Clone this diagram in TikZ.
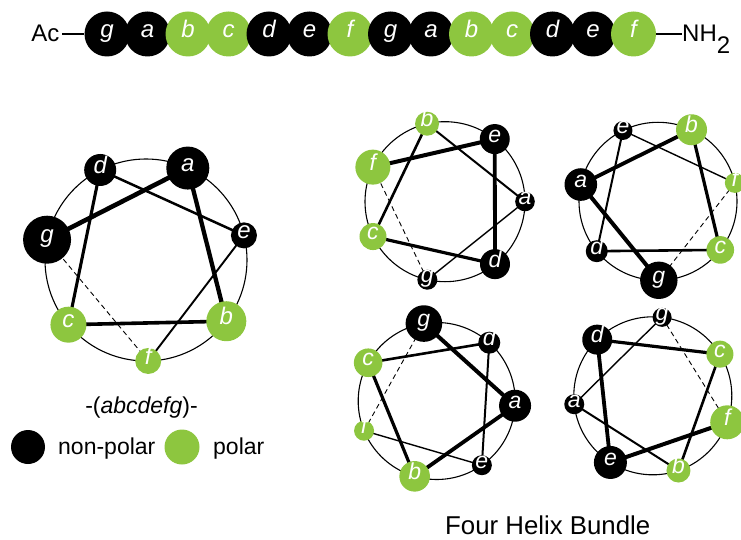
\documentclass[tikz,border=0pt]{standalone}
\usepackage{fontspec}
\setmainfont{Liberation Sans}
\usetikzlibrary{backgrounds,calc}
\definecolor{polargreen}{RGB}{141,198,63}
\colorlet{col-a}{black}
\colorlet{col-b}{polargreen}
\colorlet{col-c}{polargreen}
\colorlet{col-d}{black}
\colorlet{col-e}{black}
\colorlet{col-f}{polargreen}
\colorlet{col-g}{black}
\tikzset{
  res/.style={circle, inner sep=0pt, fill=col-#1, text=white, text height=0.62em, text depth=0pt},
  ring/.style={line width=1.1pt},
  link/.style={line width=#1, line cap=round},
  closer/.style={line width=0.9pt, dash pattern=on 5pt off 3.5pt},
  lbl/.style={font=\fontsize{23}{23}\selectfont, inner sep=0pt},
  legdot/.style={circle, inner sep=0pt, fill=#1},
}
% #1 prefix, #2 cx, #3 cy, #4 R, #5 start angle, #6 letter/radius list, #7 widths, #8 font size
\newcommand\hwheel[8]{%
  \foreach \l/\s [count=\i] in {#6} {
    \pgfmathsetmacro\px{#2+#4*cos(#5-(\i-1)*720/7)}
    \pgfmathsetmacro\py{#3-#4*sin(#5-(\i-1)*720/7)}
    \node[res=\l, minimum size={2*\s*1pt}, font=\fontsize{#8}{#8}\selectfont\itshape] (#1\l) at (\px,\py) {\l};
    \expandafter\xdef\csname hw#1\i\endcsname{\l}
  }
  \begin{pgfonlayer}{background}
    \draw[ring] (#2,#3) circle[radius=#4pt];
    \foreach \w [count=\i] in {#7} {
      \pgfmathtruncatemacro\j{\i+1}
      \edef\na{\csname hw#1\i\endcsname}
      \edef\nb{\csname hw#1\j\endcsname}
      \draw[link=\w pt] (#1\na.center) -- (#1\nb.center);
    }
    \edef\na{\csname hw#17\endcsname}
    \edef\nb{\csname hw#11\endcsname}
    \draw[closer] (#1\na.center) -- (#1\nb.center);
  \end{pgfonlayer}
}
\begin{document}
\begin{tikzpicture}[x=1pt, y=-1pt]
\useasboundingbox (0,0) rectangle (741,540);

% ---- top sequence ----
\foreach \l [count=\i] in {g,a,b,c,d,e,f,g,a,b,c,d,e,f} {
  \node[res=\l, minimum size=45pt, text height=0.72em, font=\fontsize{24}{24}\selectfont\itshape] (s\i) at ({107+40.5*(\i-1)},34) {\l};
}
\node[lbl, font=\fontsize{24}{24}\selectfont, anchor=base east] (ac) at (59.5,41.7) {Ac};
\node[lbl, font=\fontsize{24}{24}\selectfont, anchor=base west] (nh) at (682,41.7) {NH\raisebox{-12pt}{2}};
\begin{pgfonlayer}{background}
  \draw[line width=2pt] (ac.east |- s1.west) ++(2.5,0) -- (s1.west);
  \draw[line width=2pt] (s14.east) -- (nh.west |- s14.east);
\end{pgfonlayer}

% ---- single heptad wheel ----
\hwheel{L}{146}{260}{101}{168.4}{g/24,a/21.5,b/20,c/18,d/16,e/13,f/13}{4.6,4.3,3.6,3.1,2.5,1.9}{24}

% ---- four helix bundle ----
\hwheel{P}{445}{201.7}{80}{154.4}{f/17.5,e/15,d/15,c/13.5,b/12,a/9.8,g/10}{4,3.8,3.2,2.6,2,1.4}{23}
\hwheel{Q}{658}{201.3}{79}{-89.4}{g/18.7,a/16.3,b/15.5,c/13.8,d/11,e/9.5,f/10}{4,3.8,3.2,2.6,2,1.4}{23}
\hwheel{R}{436.7}{401}{78.5}{99.4}{g/18.3,a/16,b/15.3,c/14.3,d/11,e/10,f/10}{4,3.8,3.2,2.6,2,1.4}{23}
\hwheel{S}{652.8}{395.8}{79}{-19.6}{f/17,e/16.5,d/15,c/13.5,b/12,a/10,g/9.5}{4,3.8,3.2,2.6,2,1.4}{23}

% ---- labels and legend ----
\node[lbl, anchor=base] (heptad) at (141.5,413.5) {-(\textit{abcdefg})-};
\node[legdot=black, minimum size=34pt] (legnp) at (28,447) {};
\node[lbl, anchor=base west] (txtnp) at (58,454.5) {non-polar};
\node[legdot=polargreen, minimum size=35pt] (legp) at (182,447) {};
\node[lbl, anchor=base west] (txtp) at (213,454.5) {polar};
\node[lbl, font=\fontsize{25.8}{25.8}\selectfont, anchor=base west] (bundle) at (445,534) {Four Helix Bundle};
\end{tikzpicture}
\end{document}
